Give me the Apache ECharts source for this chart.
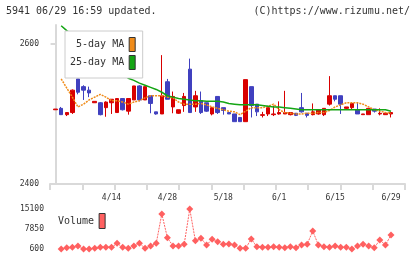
<!DOCTYPE html>
<html>
<head>
<meta charset="utf-8">
<script src="https://cdn.jsdelivr.net/npm/echarts@6/dist/echarts.min.js"></script>
<style>
  html, body { margin: 0; padding: 0; background: #fff; }
  #chart { width: 420px; height: 259px; }
</style>
</head>
<body>
<div id="chart"></div>
<script>
  // trading days (3/31 has a candle but no volume point)
  var dates = ['3/31', '4/1', '4/4', '4/5', '4/6', '4/7', '4/8', '4/11', '4/12', '4/13', '4/14', '4/15',
    '4/18', '4/19', '4/20', '4/21', '4/22', '4/25', '4/26', '4/27', '4/28', '5/2', '5/6',
    '5/9', '5/10', '5/11', '5/12', '5/13', '5/16', '5/17', '5/18', '5/19', '5/20',
    '5/23', '5/24', '5/25', '5/26', '5/27', '5/30', '5/31', '6/1', '6/2', '6/3',
    '6/6', '6/7', '6/8', '6/9', '6/10', '6/13', '6/14', '6/15', '6/16', '6/17',
    '6/20', '6/21', '6/22', '6/23', '6/24', '6/27', '6/28', '6/29'];

  // [open, close, low, high]
  var candles = [
    [2506, 2507, 2506, 2507], [2508, 2499, 2499, 2510], [2499, 2502, 2497, 2502], [2502, 2534, 2500, 2535],
    [2550, 2531, 2528, 2550], [2539, 2534, 2520, 2541], [2534, 2530, 2524, 2539], [2516, 2518, 2516, 2518],
    [2516, 2499, 2498, 2517], [2509, 2517, 2496, 2518], [2516, 2521, 2500, 2521], [2502, 2522, 2502, 2522],
    [2522, 2506, 2505, 2522], [2504, 2522, 2499, 2522], [2520, 2540, 2520, 2540], [2540, 2520, 2518, 2541],
    [2520, 2539, 2520, 2539], [2526, 2515, 2501, 2526], [2503, 2500, 2499, 2503], [2500, 2526, 2500, 2584],
    [2546, 2521, 2521, 2550], [2510, 2525, 2501, 2532], [2501, 2506, 2500, 2506], [2512, 2525, 2503, 2530],
    [2564, 2502, 2502, 2579], [2510, 2526, 2503, 2533], [2519, 2502, 2500, 2532], [2516, 2504, 2503, 2516],
    [2500, 2509, 2498, 2509], [2525, 2502, 2500, 2525], [2509, 2505, 2499, 2509], [2502, 2500, 2500, 2502],
    [2500, 2489, 2489, 2500], [2495, 2489, 2489, 2495], [2489, 2549, 2489, 2549], [2539, 2512, 2495, 2539],
    [2514, 2503, 2497, 2514], [2498, 2499, 2495, 2503], [2500, 2509, 2497, 2509], [2499, 2500, 2497, 2512],
    [2500, 2502, 2499, 2518], [2500, 2502, 2500, 2533], [2499, 2502, 2498, 2502], [2501, 2498, 2497, 2501],
    [2509, 2503, 2502, 2530], [2501, 2498, 2495, 2501], [2499, 2503, 2498, 2515], [2500, 2506, 2499, 2506],
    [2499, 2508, 2497, 2508], [2514, 2526, 2512, 2554], [2526, 2521, 2518, 2526], [2526, 2514, 2500, 2526],
    [2508, 2510, 2506, 2510], [2509, 2515, 2506, 2515], [2506, 2500, 2500, 2517], [2499, 2500, 2499, 2500],
    [2499, 2508, 2499, 2508], [2507, 2504, 2502, 2507], [2500, 2501, 2498, 2508], [2499, 2501, 2499, 2501],
    [2500, 2502, 2495, 2502]
  ];

  var ma5 = [null,
    2550, 2537, 2524, 2510, 2514, 2520, 2524, 2528, 2524, 2519, 2519, 2517, 2514, 2517, 2519,
    2523, 2526, 2526, 2526, 2524, 2523, 2517, 2514, 2514, 2514, 2515, 2513, 2510, 2508, 2506,
    2504, 2503, 2499, 2504, 2509, 2509, 2509, 2511, 2514, 2506, 2502, 2501, 2500, 2500, 2501,
    2501, 2502, 2502, 2505, 2510, 2513, 2516, 2516, 2516, 2514, 2510, 2506, 2504, 2502, 2501];

  var ma25 = [null,
    2626, 2619, 2613, 2607, 2601, 2594, 2588, 2581, 2576, 2569, 2563, 2557, 2551, 2548, 2544,
    2541, 2538, 2535, 2531, 2526, 2524, 2522, 2521, 2520, 2519, 2519, 2518, 2518, 2518, 2517,
    2515, 2514, 2513, 2513, 2513, 2513, 2512, 2511, 2510, 2510, 2509, 2508, 2507, 2506, 2506,
    2506, 2506, 2506, 2506, 2506, 2506, 2506, 2506, 2506, 2506, 2506, 2506, 2506, 2506, 2504];

  var volumes = [null,
    600, 1070, 1220, 1690, 600, 600, 850, 1220, 1220, 1220, 2670, 1220, 850, 1690, 2670,
    850, 1690, 2670, 13290, 4700, 1690, 1690, 2300, 15100, 3610, 4480, 2050, 4120, 3250, 2300,
    2410, 2050, 850, 850, 4220, 1430, 1220, 1220, 1430, 1220, 1070, 1430, 1070, 2050, 2300,
    7130, 2050, 1430, 1220, 1690, 1220, 1220, 600, 1690, 2300, 1690, 1070, 3860, 2050, 5680];

  var dateLabels = ['4/14', '4/28', '5/18', '6/1', '6/15', '6/29'];
  var priceLabels = [2400, 2600];
  var volumeLabels = [600, 7850, 15100];

  var mono = 'DejaVu Sans Mono';
  var gray = '#d9d9d9';
  var textColor = '#333';

  function pairs(arr) {
    var out = [];
    arr.forEach(function (v, i) { if (v != null) out.push([i, v]); });
    return out;
  }
  function plain(v) { return String(v); }

  var candleData = candles.map(function (c, i) { return [i, c[0], c[1], c[2], c[3]]; });
  var labelIdx = dateLabels.map(function (d) { return dates.indexOf(d); });

  var chart = echarts.init(document.getElementById('chart'));
  chart.setOption({
    animation: false,
    title: [
      { text: '5941 06/29 16:59 updated.', left: 6, top: 6, padding: 0,
        textStyle: { fontFamily: mono, fontSize: 10, fontWeight: 'normal', color: textColor } },
      { text: '(C)https://www.rizumu.net/', right: 10, top: 6, padding: 0,
        textStyle: { fontFamily: mono, fontSize: 10, fontWeight: 'normal', color: textColor } }
    ],
    legend: [
      {
        data: ['5-day MA', '25-day MA'],
        orient: 'vertical', left: 65, top: 31, align: 'right',
        icon: 'rect', itemWidth: 6, itemHeight: 14, itemGap: 3,
        padding: [6, 7, 8, 5],
        backgroundColor: '#fff', borderColor: '#ccc', borderWidth: 1,
        selectedMode: false,
        itemStyle: { borderColor: '#333', borderWidth: 1 },
        textStyle: { fontFamily: mono, fontSize: 10, color: textColor },
        formatter: function (n) { return n.padStart(9, ' '); }
      },
      {
        data: ['Volume'],
        left: 58, top: 213, align: 'right',
        icon: 'rect', itemWidth: 6, itemHeight: 15, padding: 0,
        selectedMode: false,
        itemStyle: { borderColor: '#333', borderWidth: 1 },
        textStyle: { fontFamily: mono, fontSize: 10, color: textColor }
      }
    ],
    grid: [
      { left: 50, top: 25, width: 355, height: 159, outerBoundsMode: 'none' },
      { left: 50, top: 209, width: 355, height: 40, outerBoundsMode: 'none' }
    ],
    xAxis: [
      {
        type: 'value', gridIndex: 0, min: -1, max: 62.5, position: 'bottom',
        axisLine: { show: false }, axisTick: { show: false }, splitLine: { show: false },
        axisLabel: {
          customValues: labelIdx,
          formatter: function (v) { return dates[v]; },
          fontFamily: mono, fontSize: 8, color: textColor, margin: 10
        }
      },
      {
        // 目盛り線だけ
        type: 'value', gridIndex: 0, min: 0, max: 11, interval: 1, position: 'bottom',
        axisLine: { show: true, lineStyle: { color: gray, width: 2 } },
        axisTick: { show: true, length: 6, lineStyle: { color: gray, width: 2 } },
        axisLabel: { show: false }, splitLine: { show: false }
      },
      { type: 'value', gridIndex: 1, min: -1, max: 62.5, show: false }
    ],
    yAxis: [
      {
        type: 'value', gridIndex: 0, min: 2400, max: 2627,
        axisLine: { show: true, lineStyle: { color: gray, width: 2 } },
        axisTick: { show: true, customValues: priceLabels, length: 5, lineStyle: { color: gray, width: 2 } },
        axisLabel: { customValues: priceLabels, formatter: plain, fontFamily: mono, fontSize: 8, color: textColor, margin: 11 },
        splitLine: { show: false }
      },
      {
        type: 'value', gridIndex: 1, min: 600, max: 15100,
        axisLine: { show: false }, axisTick: { show: false },
        axisLabel: { customValues: volumeLabels, formatter: plain, fontFamily: mono, fontSize: 8, color: textColor, margin: 6 },
        splitLine: { show: false }
      }
    ],
    series: [
      {
        name: '5-day MA', type: 'line', xAxisIndex: 0, yAxisIndex: 0,
        data: pairs(ma5), showSymbol: false, color: '#f08c1a',
        lineStyle: { width: 1.5, type: [2, 1] }
      },
      {
        name: '25-day MA', type: 'line', xAxisIndex: 0, yAxisIndex: 0,
        data: pairs(ma25), showSymbol: false, color: '#14a514',
        lineStyle: { width: 1.5 }
      },
      {
        name: 'Price', type: 'candlestick', xAxisIndex: 0, yAxisIndex: 0,
        data: candleData, encode: { x: 0, y: [1, 2, 3, 4] },
        barWidth: 4,
        itemStyle: {
          color: '#d80000', color0: '#4040bf',
          borderColor: '#d80000', borderColor0: '#4040bf', borderWidth: 1
        }
      },
      {
        name: 'Volume', type: 'line', xAxisIndex: 2, yAxisIndex: 1,
        data: pairs(volumes), color: '#ff6060',
        symbol: 'diamond', symbolSize: 7,
        lineStyle: { width: 1, type: [2, 1] }
      }
    ]
  });
</script>
</body>
</html>
